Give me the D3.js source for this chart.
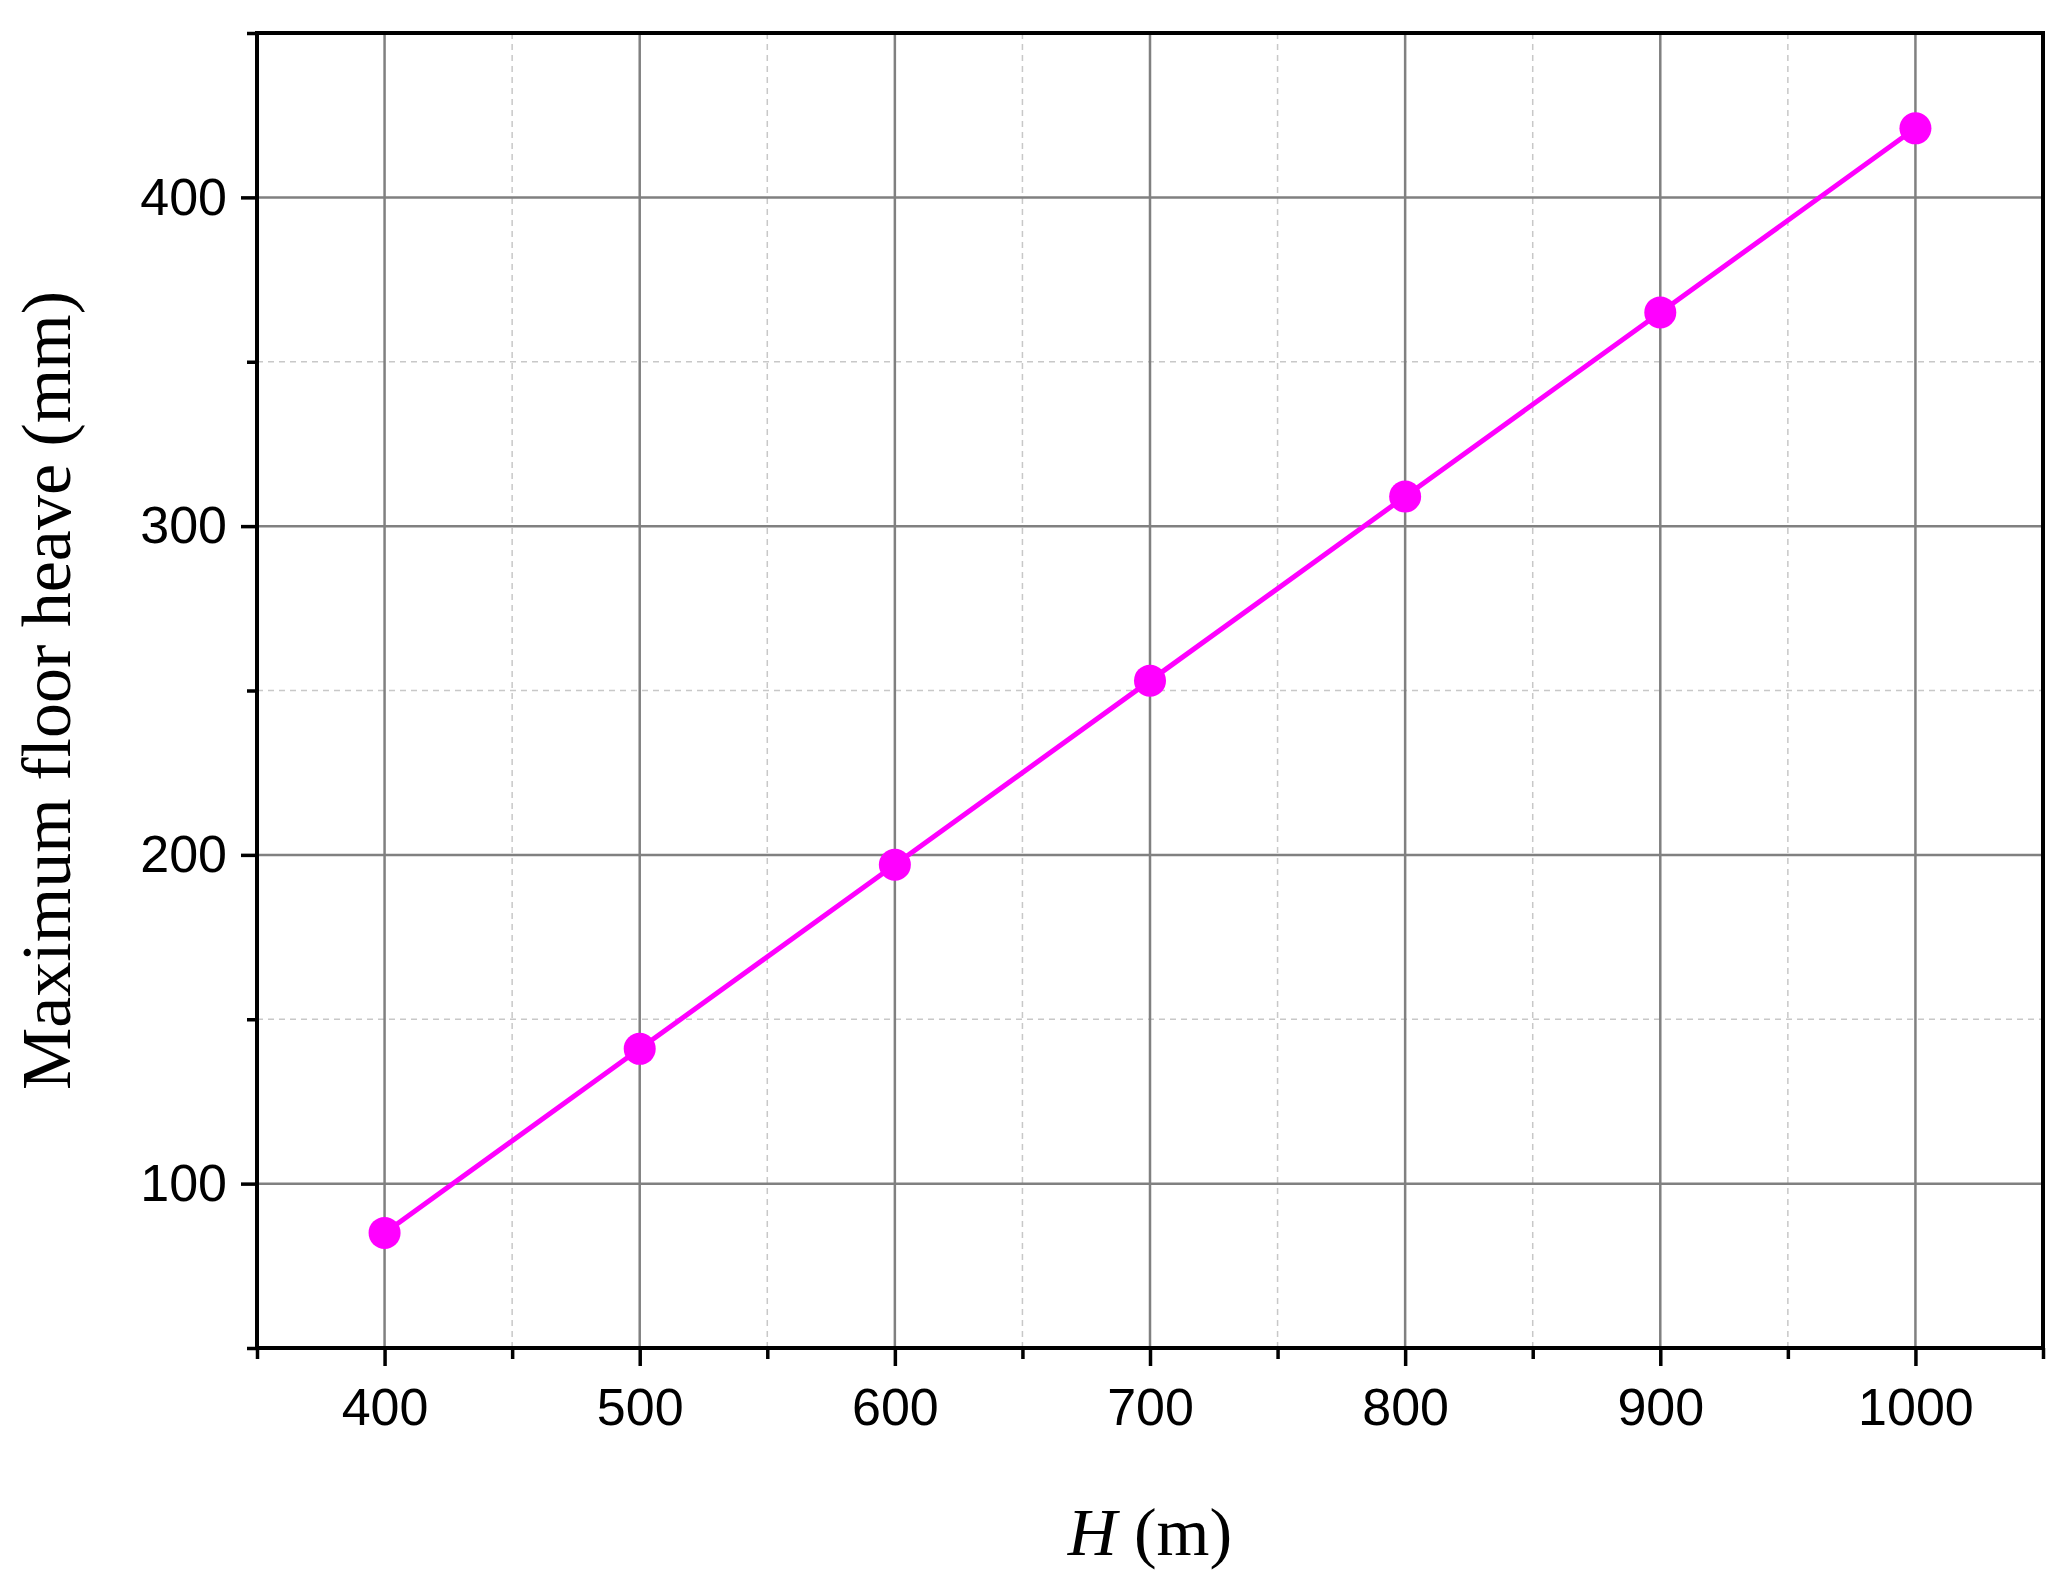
<!DOCTYPE html>
<html><head><meta charset="utf-8">
<script src="https://cdn.jsdelivr.net/npm/d3@7"></script>
<style>body{margin:0;background:#fff}</style>
</head><body>
<svg id="chart" width="2056" height="1576"></svg>
<script>
var depths = [400, 500, 600, 700, 800, 900, 1000]
var heave = [85, 141, 197, 253, 309, 365, 421]
var xTicks = [400, 500, 600, 700, 800, 900, 1000]
var yTicks = [100, 200, 300, 400]

var L = 257, R = 2043, T = 33, B = 1348
var svg = d3.select("#chart")
var x = d3.scaleLinear().domain([350, 1050]).range([L, R])
var y = d3.scaleLinear().domain([50, 450]).range([B, T])

var xMinor = d3.range(350, 1051, 100)
var yMinor = d3.range(150, 451, 100)

// grid
svg.append("g").selectAll("line").data(xMinor).join("line")
    .attr("x1", d => x(d)).attr("x2", d => x(d)).attr("y1", T).attr("y2", B)
    .attr("stroke", "#c8c8c8").attr("stroke-width", 1.5).attr("stroke-dasharray", "6,5")
svg.append("g").selectAll("line").data(yMinor).join("line")
    .attr("y1", d => y(d)).attr("y2", d => y(d)).attr("x1", L).attr("x2", R)
    .attr("stroke", "#c8c8c8").attr("stroke-width", 1.5).attr("stroke-dasharray", "6,5")
svg.append("g").selectAll("line").data(xTicks).join("line")
    .attr("x1", d => x(d)).attr("x2", d => x(d)).attr("y1", T).attr("y2", B)
    .attr("stroke", "#808080").attr("stroke-width", 2.5)
svg.append("g").selectAll("line").data(yTicks).join("line")
    .attr("y1", d => y(d)).attr("y2", d => y(d)).attr("x1", L).attr("x2", R)
    .attr("stroke", "#808080").attr("stroke-width", 2.5)

// axes
var xAx = svg.append("g").attr("transform", `translate(0,${B})`)
    .call(d3.axisBottom(x).tickValues(xTicks).tickFormat(d3.format("d")).tickSize(18).tickPadding(22).tickSizeOuter(0))
var xMin = svg.append("g").attr("transform", `translate(0,${B})`)
    .call(d3.axisBottom(x).tickValues(xMinor).tickSize(11).tickFormat("").tickSizeOuter(0))
var yAx = svg.append("g").attr("transform", `translate(${L},0)`)
    .call(d3.axisLeft(y).tickValues(yTicks).tickSize(16).tickPadding(14).tickSizeOuter(0))
var yMin = svg.append("g").attr("transform", `translate(${L},0)`)
    .call(d3.axisLeft(y).tickValues(yMinor.concat([50])).tickSize(10).tickFormat("").tickSizeOuter(0))
;[xAx, xMin, yAx, yMin].forEach(g => {
    g.select(".domain").remove()
    g.selectAll(".tick line").attr("stroke", "#000").attr("stroke-width", 3.5)
    g.selectAll("text").attr("font-family", "Liberation Sans, Arial, sans-serif")
        .attr("font-size", 52).attr("fill", "#000")
})

svg.append("rect").attr("x", L).attr("y", T).attr("width", R - L).attr("height", B - T)
    .attr("fill", "none").attr("stroke", "#000").attr("stroke-width", 4)

// series
var pts = depths.map((d, i) => [d, heave[i]])
svg.append("path").datum(pts)
    .attr("d", d3.line().x(d => x(d[0])).y(d => y(d[1])))
    .attr("fill", "none").attr("stroke", "#ff00ff").attr("stroke-width", 5)
svg.append("g").selectAll("circle").data(pts).join("circle")
    .attr("cx", d => x(d[0])).attr("cy", d => y(d[1])).attr("r", 16)
    .attr("fill", "#ff00ff")

// titles
var xt = svg.append("text").attr("x", (L + R) / 2).attr("y", 1555)
    .attr("text-anchor", "middle").attr("font-family", "Liberation Serif, Times New Roman, serif")
    .attr("font-size", 68)
xt.append("tspan").attr("font-style", "italic").text("H")
xt.append("tspan").text(" (m)")
svg.append("text").attr("transform", `translate(70,${(T + B) / 2}) rotate(-90)`)
    .attr("text-anchor", "middle").attr("font-family", "Liberation Serif, Times New Roman, serif")
    .attr("font-size", 70).text("Maximum floor heave (mm)")
</script>
</body></html>
